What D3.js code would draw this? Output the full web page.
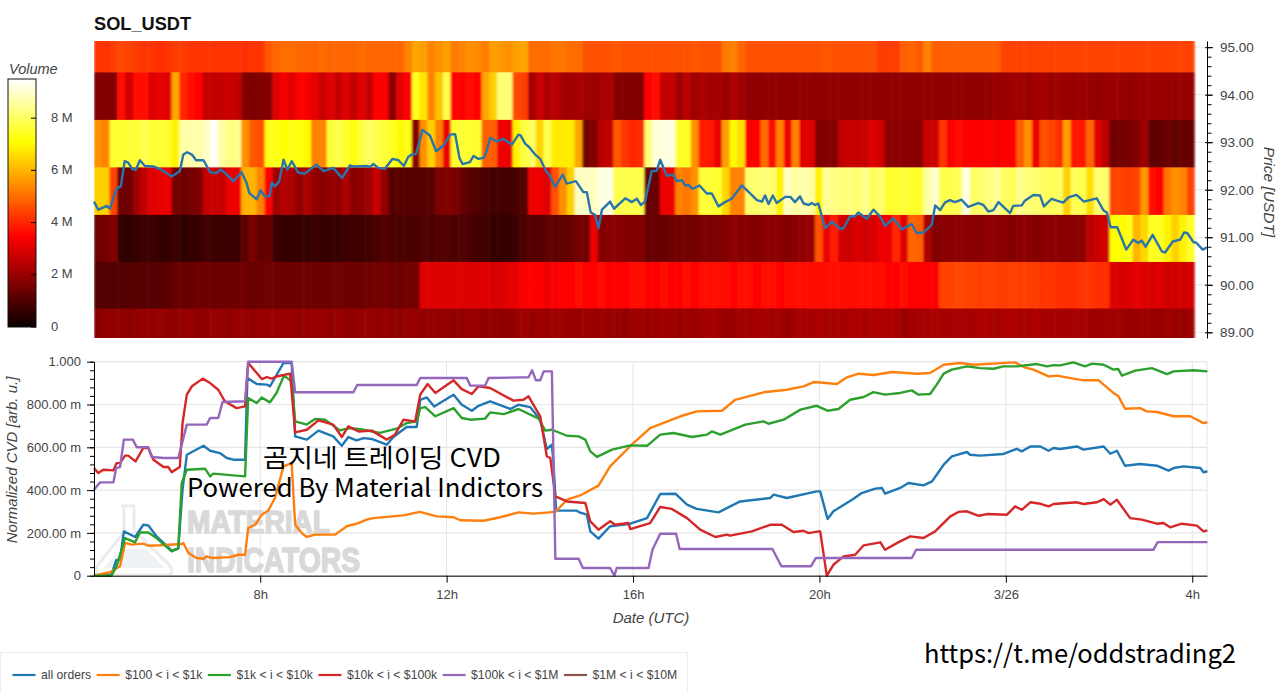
<!DOCTYPE html>
<html>
<head>
<meta charset="utf-8">
<script src="https://cdn.jsdelivr.net/npm/d3@7"></script>
<style>
    html, body { margin: 0; padding: 0; background: #fff; overflow: hidden; }
    svg { display: block; }
    text { font-family: "Liberation Sans", Arial, sans-serif; }
</style>
</head>
<body>
<svg id="chart" width="1280" height="693"></svg>
<script>
// Volume per 10 minute column, one array per price level (millions)
const volume95 = [
    4.2,4.2,4.3,4.5,4.4,4.3,4.2,4.2,4.1,4.2,
    4.3,4.3,4.2,4.2,4.2,4.2,4.2,4.2,4.2,4.1,
    4.2,4.2,4.7,4.9,5.0,5.0,4.9,4.9,4.9,5.0,
    4.9,4.9,4.9,4.9,5.0,4.9,4.9,4.9,4.9,4.9,
    5.3,5.8,5.7,5.3,5.5,5.7,5.2,5.3,5.5,5.4,
    5.2,5.7,5.6,5.5,5.7,5.8,5.0,5.0,5.0,5.1,
    5.1,5.0,5.0,4.6,4.6,4.6,4.6,4.7,4.6,4.6,
    4.6,4.6,4.6,4.6,4.6,4.6,4.6,4.7,4.6,4.6,
    4.6,5.2,5.3,4.9,4.6,4.6,4.6,4.6,4.6,4.6,
    4.6,4.6,4.6,4.6,4.7,4.6,4.6,4.6,4.6,4.6,
    4.6,4.3,4.3,4.3,4.8,4.9,4.7,5.3,4.8,4.8,
    4.8,4.8,4.8,4.8,4.8,4.8,4.8,4.4,4.4,4.4,
    4.4,4.4,4.4,4.4,4.4,4.4,4.4,4.4,4.4,4.4,
    4.4,4.4,4.4,4.4,4.4,4.4,4.4,4.4,4.4,4.4,
    4.4,4.4];
const volume94 = [
    1.7,1.7,1.7,3.6,2.8,3.7,3.7,3.0,3.1,3.0,
    5.8,4.0,3.6,3.5,2.6,2.6,2.6,2.7,2.6,1.7,
    1.6,1.7,1.7,3.0,3.3,3.0,3.5,3.3,3.1,2.7,
    3.0,2.6,3.0,2.6,3.0,2.6,3.5,3.4,1.8,3.1,
    3.4,7.4,6.7,5.3,6.2,7.8,3.5,3.5,3.6,3.5,
    5.8,6.4,8.2,8.2,4.5,4.3,2.2,2.7,2.3,2.5,
    2.2,2.1,2.2,2.1,2.1,2.2,2.3,1.7,1.7,1.7,
    1.7,3.5,3.7,2.6,2.6,2.1,2.5,2.1,2.3,2.1,
    2.2,2.0,2.3,2.1,1.9,1.9,1.9,1.9,1.9,1.9,
    1.9,1.9,1.9,1.9,1.9,1.9,1.9,1.9,1.9,1.9,
    1.9,1.9,1.9,1.9,1.9,1.9,1.9,1.9,1.9,1.9,
    1.9,1.9,1.9,1.9,1.9,1.9,2.0,2.0,2.1,2.1,
    2.0,2.1,2.2,2.0,2.1,2.0,2.0,2.0,2.0,1.9,
    2.0,2.0,2.0,1.9,2.0,2.0,2.0,2.0,2.0,2.0,
    2.0,2.0];
const volume93 = [
    5.5,5.3,7.5,7.5,7.6,7.6,7.8,7.6,7.6,7.5,
    6.9,8.6,8.7,8.7,8.9,9.4,8.6,8.3,8.4,5.5,
    4.7,4.6,7.3,7.3,7.1,7.3,7.2,7.0,5.3,5.3,
    7.6,7.8,7.5,7.2,7.7,8.0,7.8,7.6,7.4,7.0,
    7.3,1.8,5.5,6.4,5.3,3.2,7.5,7.6,7.5,7.5,
    4.8,4.8,3.2,3.2,6.9,7.7,8.0,6.5,7.8,6.8,
    6.8,6.8,5.8,1.5,1.7,2.5,2.6,4.7,4.2,4.0,
    4.1,8.2,9.1,9.2,9.2,7.5,7.4,5.5,3.9,3.8,
    3.2,5.7,7.0,6.6,3.5,3.5,5.0,3.6,5.3,3.2,
    5.3,3.0,3.0,1.7,1.7,1.7,2.6,2.7,2.6,2.7,
    3.0,2.8,1.8,1.8,1.8,1.8,1.8,2.7,2.7,4.2,
    3.4,3.6,3.4,3.5,3.4,3.5,3.3,3.5,3.5,4.8,
    5.5,3.2,4.6,4.4,4.1,5.7,3.8,3.8,4.9,3.0,
    2.5,1.4,1.5,1.5,1.7,2.1,1.2,1.2,1.4,1.2,
    1.3,1.3];
const volume92 = [
    6.4,6.4,4.4,1.4,1.4,2.1,2.6,3.0,3.1,3.2,
    1.5,1.4,1.5,1.6,2.6,2.7,2.6,3.2,3.2,6.0,
    6.0,5.3,3.5,2.1,2.4,2.3,1.9,2.3,1.9,1.8,
    2.0,1.9,2.3,1.8,1.9,2.1,2.7,1.9,1.0,1.1,
    1.1,1.0,1.1,1.1,1.6,1.7,1.6,1.3,1.1,1.0,
    0.9,0.8,0.8,0.8,0.9,1.0,3.2,3.2,3.0,4.6,
    5.5,6.4,8.9,8.9,8.9,9.2,9.2,7.8,7.8,7.8,
    7.8,1.3,1.3,3.2,3.2,5.3,5.1,5.5,7.6,7.6,
    7.5,6.5,5.3,5.3,8.1,8.1,8.2,8.1,6.9,8.9,
    8.6,8.7,8.6,6.9,8.5,8.3,8.2,8.3,8.1,8.4,
    7.9,8.1,7.5,7.5,7.6,7.5,7.5,8.6,9.0,7.8,
    7.8,7.9,9.2,8.0,8.1,8.3,8.5,8.0,7.9,8.4,
    8.2,8.1,8.0,7.9,8.0,6.4,7.9,7.8,6.6,8.1,
    8.1,4.4,4.4,4.3,4.4,5.6,3.6,3.5,5.1,5.5,
    5.3,4.4];
const volume91 = [
    1.4,1.5,1.7,0.6,0.5,0.6,0.7,0.7,0.6,0.6,
    0.7,0.5,0.6,0.6,0.8,0.7,0.7,0.7,0.7,1.2,
    1.6,1.2,1.3,0.7,0.6,0.6,0.6,0.6,0.7,0.6,
    0.6,0.6,0.7,0.7,0.7,0.8,0.9,1.0,0.9,0.9,
    0.9,0.9,1.0,0.9,1.0,1.0,0.9,1.0,0.9,0.8,
    0.8,0.6,0.6,0.6,0.7,0.9,1.1,1.0,1.2,1.2,
    1.2,1.3,1.5,1.4,3.2,1.7,1.8,1.8,1.7,1.7,
    1.7,1.3,1.3,1.3,1.4,1.5,1.5,1.5,1.6,1.6,
    1.6,1.7,1.9,1.7,1.8,1.7,1.8,1.8,1.8,1.7,
    1.8,1.9,2.0,4.6,3.2,3.9,2.8,2.7,2.9,2.8,
    2.9,3.2,3.2,4.0,3.0,4.9,4.8,2.3,1.7,1.8,
    1.8,1.9,1.8,1.8,1.8,1.9,1.8,1.8,1.7,1.8,
    1.8,1.7,1.8,1.8,1.8,1.8,1.8,1.8,2.5,2.7,
    2.8,7.1,7.1,7.3,6.0,6.5,7.4,7.4,6.9,6.4,
    6.9,7.5];
const volume90 = [
    1.0,1.0,1.0,1.0,1.1,1.0,1.1,1.0,1.1,1.1,
    1.3,1.3,1.3,1.4,1.4,1.3,1.4,1.4,1.4,1.4,
    1.3,1.4,1.4,1.4,1.4,1.4,1.4,1.4,1.4,1.4,
    1.4,1.4,1.4,1.4,1.4,1.4,1.5,1.5,1.4,1.4,
    1.5,1.5,3.0,3.0,3.0,3.0,3.0,3.0,3.0,3.0,
    3.0,2.9,2.9,3.1,3.1,3.4,3.5,3.5,3.2,3.4,
    3.5,3.5,3.6,3.5,3.5,3.6,3.5,3.5,3.5,3.6,
    3.6,3.5,3.5,3.6,3.5,3.5,3.6,3.5,3.6,3.6,
    3.6,3.6,3.5,3.6,3.6,3.5,3.6,3.6,3.5,3.6,
    3.6,3.6,3.7,3.7,3.7,3.7,3.7,3.6,3.6,3.6,
    3.6,3.6,3.5,3.5,3.6,3.5,3.5,3.4,3.4,4.4,
    4.4,4.5,4.4,4.4,4.3,4.4,4.3,4.3,4.4,4.3,
    4.3,4.3,4.2,4.2,4.1,4.1,4.1,4.2,4.2,4.1,
    4.1,3.0,2.9,2.9,3.1,3.0,2.9,3.0,2.8,2.8,
    2.8,2.8];
const volume89 = [
    1.8,1.9,1.9,1.9,1.8,1.9,2.0,1.9,2.0,1.9,
    1.9,2.0,2.0,1.9,1.9,2.0,2.0,1.9,2.0,2.0,
    1.9,2.0,2.0,2.0,2.0,2.0,1.9,2.0,2.0,2.0,
    1.9,2.0,1.9,1.9,2.0,2.0,1.9,2.0,1.9,1.9,
    2.0,2.0,1.9,2.0,1.9,2.0,1.9,1.9,2.0,2.0,
    1.9,1.9,1.9,1.9,2.0,2.1,2.0,2.1,2.0,2.1,
    2.1,2.0,2.0,2.1,2.0,2.1,2.0,2.0,1.9,2.1,
    2.1,2.0,2.0,2.1,2.1,2.0,2.1,2.0,2.1,2.2,
    2.1,2.0,2.0,2.1,2.1,2.2,2.2,2.1,2.1,2.0,
    2.2,2.2,2.2,2.3,2.2,2.2,2.2,2.3,2.3,2.2,
    2.3,2.3,2.3,2.2,2.0,2.1,2.2,2.2,2.3,2.2,
    2.2,2.2,2.2,2.2,2.3,2.2,2.2,2.3,2.3,2.2,
    2.2,2.3,2.2,2.2,2.2,2.2,2.2,2.2,2.1,2.1,
    2.1,2.1,2.1,2.0,2.0,2.1,2.0,2.0,2.1,2.0,
    2.0,2.1];
const volumeRows = [volume95, volume94, volume93, volume92, volume91, volume90, volume89];
// Price edges of the seven rows, top to bottom
const priceEdges = [95.13, 94.47, 93.47, 92.47, 91.47, 90.48, 89.5, 88.88];
const priceTicks = [89, 90, 91, 92, 93, 94, 95];
const volumeTicks = [0, 2, 4, 6, 8];
const volumeTickLabels = ["0", "2 M", "4 M", "6 M", "8 M"];

// Lines are [5 minute bar since 4:26 UTC, value]
const priceLine = [[0,91.75],[1.1,91.58],[3.3,91.66],[4.1,91.6],[5.8,92.03],[6.9,92.07],[7.9,92.6],[8.8,92.57],[9.9,92.43],[10.8,92.42],[11.8,92.62],[13.1,92.5],[15.3,92.49],[17.4,92.42],[20,92.28],[22.1,92.39],[23,92.74],[24,92.79],[25.2,92.74],[26.3,92.62],[28.2,92.62],[29.9,92.37],[31.6,92.35],[32.6,92.43],[34.2,92.32],[35.9,92.18],[38,92.37],[39.3,92.14],[40,91.93],[41.9,91.8],[42.9,91.99],[44,91.86],[45.2,91.86],[45.8,92.15],[46.6,92.07],[47.7,92.18],[48.8,92.63],[49.8,92.42],[50.9,92.6],[52.6,92.36],[54.3,92.34],[57.3,92.53],[59.1,92.39],[61.6,92.46],[63.9,92.25],[65.9,92.51],[66.8,92.49],[70.2,92.5],[71.1,92.48],[71.9,92.54],[73.2,92.46],[74.9,92.44],[76.9,92.65],[78.4,92.62],[79.8,92.5],[80.9,92.69],[81.8,92.74],[82.9,92.75],[84.6,93.26],[86.5,93.14],[88.1,92.81],[90,92.93],[91.7,93.16],[93,93.17],[94.1,92.67],[94.9,92.54],[96.8,92.58],[97.7,92.71],[99,92.65],[100.3,92.67],[101.1,92.81],[102,93.09],[103.7,93.02],[105.4,93.07],[107.6,92.95],[109.3,93.16],[109.9,93.14],[111,92.97],[111.9,92.91],[113.6,92.74],[114.9,92.65],[116.2,92.42],[117.5,92.28],[118.7,92.06],[120.7,92.32],[121.7,92.13],[124.1,92.18],[126,91.95],[126.9,91.95],[127.9,91.52],[129,91.47],[129.9,91.19],[130.8,91.58],[132.9,91.75],[133.9,91.6],[136.8,91.82],[138.5,91.74],[139.8,91.81],[140.8,91.68],[141.9,91.75],[143.6,92.39],[144.9,92.4],[145.8,92.63],[147.5,92.29],[149,92.32],[150.1,92.18],[151.4,92.2],[152.2,92.09],[153.1,92.1],[154.1,92.02],[155.9,92.09],[157.8,91.92],[159.1,91.92],[160.8,91.65],[162.5,91.74],[164.2,91.81],[166.8,92.09],[168.5,91.96],[170.7,91.78],[172,91.75],[172.8,91.88],[173.7,91.7],[174.8,91.88],[175.8,91.72],[178,91.85],[179.3,91.85],[180.5,91.74],[181.8,91.86],[182.7,91.71],[184,91.68],[184.8,91.72],[185.7,91.68],[186.5,91.71],[188.3,91.19],[190,91.33],[192.1,91.18],[193,91.19],[194.7,91.44],[196,91.44],[196.8,91.52],[199,91.39],[200.7,91.58],[202.4,91.44],[203.7,91.24],[205.8,91.4],[208,91.17],[210.6,91.28],[211.8,91.09],[213.6,91.1],[215.7,91.26],[216.6,91.67],[217.9,91.57],[219.1,91.73],[220.4,91.78],[221.7,91.74],[223.4,91.79],[225.1,91.64],[227.7,91.72],[229,91.68],[230.3,91.54],[231.6,91.57],[232.9,91.74],[235.9,91.51],[236.7,91.66],[238.9,91.67],[239.7,91.77],[241.9,91.89],[243.6,91.88],[244.6,91.65],[246.6,91.81],[247.9,91.77],[249.6,91.73],[250.9,91.84],[253,91.89],[254.9,91.75],[258.2,91.82],[259.9,91.57],[260.8,91.52],[261.8,91.21],[263.5,91.21],[265.8,90.74],[267.6,90.95],[268.9,90.88],[269.8,90.93],[270.8,90.8],[272.6,91.05],[275,90.7],[275.8,90.68],[277.8,90.91],[279.7,90.95],[280.7,91.1],[281.5,91.09],[283.1,90.9],[283.9,90.88],[285.5,90.74],[286.7,90.79]];

const cvdAll = [[0,0],[4.5,0.005],[5.7,0.072],[6.7,0.075],[7.7,0.207],[10.6,0.181],[12.7,0.238],[14,0.235],[16.1,0.184],[20,0.117],[21.7,0.126],[22.8,0.402],[23.9,0.565],[28.2,0.607],[29.9,0.584],[32.4,0.573],[34.2,0.55],[35.9,0.542],[38.9,0.542],[39.5,0.924],[41.9,0.896],[44.5,0.893],[45.3,0.885],[48.8,0.994],[50.9,0.994],[51.8,0.651],[54.8,0.636],[57.8,0.678],[61.6,0.651],[63.8,0.607],[65.5,0.648],[67.6,0.632],[69.4,0.643],[71.5,0.639],[75.4,0.612],[77.1,0.648],[80.5,0.695],[83.1,0.695],[84,0.822],[85.7,0.833],[87.6,0.791],[92.6,0.846],[94.7,0.799],[97.3,0.771],[99,0.794],[102,0.815],[107.2,0.779],[109.3,0.799],[112.3,0.788],[114.9,0.729],[116.6,0.592],[117.9,0.612],[118.3,0.534],[119,0.304],[124.3,0.304],[125,0.296],[126.9,0.285],[127.8,0.207],[129.9,0.173],[132.9,0.231],[138.1,0.243],[142.4,0.269],[145.8,0.382],[149.7,0.383],[152.7,0.332],[155.2,0.312],[160.8,0.296],[166.4,0.347],[174.1,0.363],[175,0.379],[178.4,0.363],[186.1,0.394],[187,0.394],[188.9,0.265],[190.4,0.301],[195.2,0.355],[197.7,0.386],[201.2,0.407],[202.9,0.41],[203.7,0.383],[207.6,0.41],[209.7,0.433],[213.6,0.422],[215.8,0.441],[217,0.472],[218.8,0.519],[220.9,0.558],[224.8,0.578],[225.6,0.565],[228.2,0.561],[234.2,0.569],[237.6,0.593],[238.9,0.581],[241.1,0.604],[243.7,0.604],[245.8,0.584],[247.1,0.597],[248.8,0.592],[253.1,0.604],[254.8,0.589],[260,0.604],[261.7,0.57],[263.4,0.584],[265.5,0.514],[269.4,0.522],[273.7,0.514],[276.7,0.491],[278,0.503],[280.6,0.511],[284.9,0.503],[285.7,0.483],[286.7,0.488]];

const cvd100 = [[0,0],[4.1,0.016],[6.7,0.044],[8,0.153],[9.7,0.145],[12.7,0.15],[14,0.14],[17,0.142],[22.6,0.148],[23,0.153],[24.3,0.106],[26.4,0.083],[28.2,0.079],[29,0.09],[30.3,0.083],[35,0.087],[37.2,0.098],[38.9,0.098],[39.7,0.223],[41.5,0.238],[43.2,0.285],[44.9,0.305],[46.6,0.363],[48.8,0.511],[50.9,0.526],[51.8,0.238],[53.5,0.199],[54.8,0.181],[56.9,0.192],[62.1,0.192],[65.1,0.231],[68.1,0.246],[70.2,0.262],[71.9,0.269],[79.7,0.282],[83.9,0.298],[88.3,0.277],[92.6,0.273],[94.3,0.259],[100.3,0.257],[104.6,0.273],[109.3,0.296],[113.2,0.29],[118.8,0.298],[121.8,0.355],[125.2,0.375],[129.9,0.421],[132.9,0.511],[138.9,0.62],[143.2,0.69],[151,0.745],[155.2,0.768],[161.7,0.771],[165.1,0.822],[172.4,0.857],[178.4,0.869],[182.7,0.885],[185.3,0.905],[187,0.903],[191.3,0.896],[193.9,0.927],[196.9,0.944],[200.7,0.938],[205.5,0.952],[211.9,0.944],[215.3,0.947],[218.8,0.986],[223,0.994],[226.5,0.986],[237.2,0.997],[239.4,0.975],[241.9,0.963],[245.8,0.931],[247.9,0.935],[254.8,0.913],[258.7,0.913],[262.5,0.854],[263.8,0.838],[265.5,0.78],[269.4,0.783],[271.1,0.768],[273.7,0.765],[278,0.745],[282.3,0.745],[285.7,0.713],[286.7,0.717]];

const cvd1k = [[0,0],[4.5,0],[5.8,0.044],[8,0.176],[10.6,0.156],[11.8,0.202],[14,0.202],[16.1,0.176],[20,0.114],[21.7,0.129],[22.6,0.433],[23.9,0.495],[28.6,0.5],[29.9,0.464],[30.7,0.477],[35.9,0.469],[38.9,0.464],[39.7,0.83],[41.9,0.807],[43.2,0.833],[45.3,0.81],[47,0.854],[48.9,0.935],[50.9,0.908],[51.8,0.721],[54.8,0.706],[56.9,0.732],[59.5,0.729],[63.3,0.679],[65.9,0.69],[69.4,0.682],[73.6,0.667],[77.9,0.687],[80.5,0.713],[83.1,0.721],[84,0.783],[85.3,0.788],[87.9,0.745],[92.6,0.783],[94.7,0.737],[96.9,0.729],[100.7,0.734],[102,0.763],[105.5,0.755],[109.3,0.779],[114.5,0.734],[116.2,0.678],[117.9,0.682],[121.8,0.654],[124.8,0.651],[126.5,0.636],[127.8,0.581],[129.5,0.555],[133.4,0.589],[138.1,0.609],[142.4,0.607],[145.8,0.659],[149.2,0.667],[154,0.648],[157.8,0.659],[159.1,0.674],[161.3,0.659],[167.7,0.706],[172.4,0.721],[173.7,0.71],[177.6,0.729],[181.9,0.776],[186.1,0.794],[188.9,0.771],[191.7,0.779],[194.7,0.822],[198.2,0.835],[200.7,0.858],[203.7,0.846],[207.6,0.854],[210.6,0.866],[212.3,0.846],[215.3,0.849],[217,0.893],[218.8,0.944],[220.9,0.963],[224.8,0.978],[228.2,0.97],[231.6,0.967],[234.2,0.978],[237.6,0.978],[242.8,0.989],[245.4,0.978],[247.1,0.984],[248.8,0.983],[252.2,0.997],[255.2,0.978],[257,0.991],[260,0.986],[262.5,0.963],[263.7,0.966],[264.7,0.935],[268.1,0.958],[272.4,0.97],[276.3,0.942],[278,0.955],[283.1,0.96],[286.7,0.955]];

const cvd10k = [[0,0.503],[1.1,0.48],[2.4,0.495],[5,0.492],[5.8,0.526],[6.7,0.526],[8,0.561],[8.8,0.561],[10.7,0.534],[12.7,0.597],[14,0.597],[15.3,0.542],[17.9,0.508],[19.1,0.508],[20,0.484],[22.1,0.508],[22.8,0.713],[23.9,0.846],[25.2,0.885],[28,0.921],[29.9,0.9],[32,0.869],[33.7,0.815],[36.7,0.783],[38.9,0.791],[39.7,0.994],[41.9,0.947],[43.2,0.919],[44.5,0.928],[45.8,0.921],[47,0.931],[50.5,0.944],[51.8,0.67],[54.8,0.682],[57.8,0.726],[61.6,0.706],[63.8,0.648],[65.5,0.698],[68.1,0.674],[71.5,0.678],[75.4,0.636],[77.5,0.659],[79.7,0.729],[82.7,0.721],[84,0.846],[85.9,0.896],[87.9,0.854],[92.6,0.913],[94.7,0.872],[97.3,0.849],[99,0.885],[102,0.877],[108,0.818],[110.6,0.822],[111.9,0.838],[114.9,0.745],[116.6,0.558],[117.5,0.55],[118.8,0.371],[121.8,0.347],[126.5,0.34],[127.8,0.254],[129.9,0.215],[132.9,0.254],[134.2,0.238],[137.6,0.246],[138.1,0.218],[143.2,0.246],[145.8,0.321],[148.8,0.312],[152.7,0.269],[156.1,0.215],[160,0.181],[163,0.192],[163.8,0.187],[169.4,0.207],[174.1,0.238],[177.1,0.238],[180.1,0.204],[182.7,0.21],[184,0.199],[186.6,0.207],[187,0.207],[188.7,0],[190.4,0.051],[193,0.09],[196,0.098],[198.2,0.142],[202.5,0.156],[203.7,0.121],[207.2,0.157],[210.2,0.184],[213.6,0.176],[216.6,0.207],[220.5,0.277],[222.6,0.298],[224.8,0.301],[227.8,0.28],[229.9,0.288],[235.1,0.285],[237.2,0.324],[238.9,0.308],[241.1,0.343],[243.7,0.336],[245.8,0.324],[247.1,0.335],[253.1,0.343],[254.8,0.335],[258.2,0.343],[260,0.358],[261.7,0.332],[263.4,0.355],[266.8,0.269],[269.8,0.262],[273.7,0.243],[275.4,0.246],[277.1,0.226],[280.1,0.243],[284,0.234],[285.7,0.207],[286.7,0.212]];

const cvd100k = [[0,0.402],[1.5,0.436],[5,0.436],[5.7,0.503],[6.7,0.508],[7.7,0.636],[10,0.636],[11,0.6],[14,0.6],[14.8,0.555],[17.9,0.55],[21.7,0.55],[23.9,0.706],[29,0.706],[29.9,0.737],[32,0.737],[33.1,0.812],[38.9,0.815],[39.7,1],[50.9,1],[51.8,0.857],[66.8,0.857],[67.8,0.891],[83.1,0.891],[84,0.924],[96,0.924],[96.9,0.888],[100.7,0.888],[101.6,0.924],[111.9,0.927],[112.8,0.96],[113.8,0.913],[114.9,0.913],[115.8,0.955],[117.9,0.955],[118.8,0.079],[124.8,0.079],[125.9,0.036],[132.9,0.036],[134,0],[134.6,0.036],[142.8,0.036],[143.8,0.121],[145.8,0.196],[149.9,0.196],[150.8,0.125],[174.7,0.125],[177,0.044],[184.6,0.044],[185.9,0.083],[210.6,0.083],[211.7,0.121],[272.8,0.121],[273.9,0.157],[286.7,0.157]];

// Nothing of this series shows in the plot, only its legend entry
const cvd1m = [];

const cvdSeries = [cvdAll, cvd100, cvd1k, cvd10k, cvd100k, cvd1m];
const seriesNames = ["all orders", "$100 < i < $1k", "$1k < i < $10k", "$10k < i < $100k", "$100k < i < $1M", "$1M < i < $10M"];
const seriesColors = ["#1f77b4", "#ff7f0e", "#2ca02c", "#d62728", "#9467bd", "#8c564b"];

const cvdTicks = [0, 0.2, 0.4, 0.6, 0.8, 1];
const cvdTickLabels = ["0", "200.00 m", "400.00 m", "600.00 m", "800.00 m", "1.000"];
const timeTickHours = [8, 12, 16, 20, 24, 28];
const timeTickLabels = ["8h", "12h", "16h", "20h", "3/26", "4h"];

const svg = d3.select("#chart");
const textColor = "#444";
const gridColor = "#e6e6e6";

// Shared time axis
const startTime = Date.UTC(2022, 2, 25, 4, 26);
const barToDate = b => new Date(startTime + b * 5 * 60000);
const x = d3.scaleUtc()
    .domain([barToDate(0), barToDate(286.6)])
    .range([94, 1207]);
const tickDates = timeTickHours.map(h => new Date(Date.UTC(2022, 2, 25, h)));

// Hot colormap
const volumeMax = 9.47;
const hot = d3.scaleLinear()
    .domain([0, 0.365 * volumeMax, 0.746 * volumeMax, volumeMax])
    .range(["#0b0000", "#ff0000", "#ffff00", "#ffffff"])
    .clamp(true);

// Reference heatmap is an upscaled image, so soften it a little along time
const defs = svg.append("defs");
const soft = defs.append("filter")
    .attr("id", "soft")
    .attr("filterUnits", "userSpaceOnUse")
    .attr("x", 94).attr("y", 41).attr("width", 1102).attr("height", 297);
soft.append("feGaussianBlur")
    .attr("stdDeviation", "0.9 0.35")
    .attr("edgeMode", "duplicate");

// ---- Top panel ----
const yPrice = d3.scaleLinear().domain([88.88, 95.13]).range([338, 41]);

svg.append("g").selectAll("line")
    .data(priceTicks)
    .join("line")
    .attr("x1", 94).attr("x2", 1207)
    .attr("y1", d => yPrice(d)).attr("y2", d => yPrice(d))
    .attr("stroke", gridColor);

// one column is two bars, slightly under so the last one stops where the picture does
const barsPerColumn = 1.996;
const heat = svg.append("g").attr("filter", "url(#soft)");
volumeRows.forEach((row, r) => {
    heat.append("g")
        .selectAll("rect")
        .data(row)
        .join("rect")
        .attr("x", (d, i) => x(barToDate(i * barsPerColumn)))
        .attr("width", (d, i) => x(barToDate((i + 1) * barsPerColumn)) - x(barToDate(i * barsPerColumn)) + (i < row.length - 1 ? 0.5 : 0))
        .attr("y", yPrice(priceEdges[r]))
        .attr("height", yPrice(priceEdges[r + 1]) - yPrice(priceEdges[r]) + (r < 6 ? 0.5 : 0))
        .attr("fill", d => hot(d));
});

const lineFor = yScale => d3.line()
    .x(d => x(barToDate(d[0])))
    .y(d => yScale(d[1]));

svg.append("path")
    .attr("d", lineFor(yPrice)(priceLine))
    .attr("fill", "none")
    .attr("stroke", "#2a74ac")
    .attr("stroke-width", 2.4)
    .attr("stroke-linejoin", "round");

const priceAxis = svg.append("g")
    .attr("transform", "translate(1207,0)")
    .call(d3.axisRight(yPrice).tickValues(priceTicks).tickFormat(d3.format(".2f")).tickSize(6).tickSizeOuter(0));
svg.append("g")
    .attr("transform", "translate(1207,0)")
    .call(d3.axisRight(yPrice)
        .tickValues(d3.range(89, 95.01, 0.2))
        .tickFormat("")
        .tickSize(4.5)
        .tickSizeOuter(0))
    .select(".domain").remove();
priceAxis.selectAll(".tick line").attr("x1", -2);
priceAxis.selectAll(".tick text").attr("x", 13).style("font-size", "13.5px").attr("fill", textColor);

svg.append("text")
    .attr("transform", "translate(1264,192) rotate(90)")
    .attr("text-anchor", "middle")
    .style("font-size", "15.5px")
    .style("font-style", "italic")
    .attr("fill", textColor)
    .text("Price [USDT]");

svg.append("text")
    .attr("x", 94).attr("y", 30)
    .style("font-size", "18.2px")
    .style("font-weight", "bold")
    .attr("fill", "#111")
    .text("SOL_USDT");

// ---- Colorbar ----
const yVolume = d3.scaleLinear().domain([0, volumeMax]).range([326.5, 79.3]);

svg.append("g")
    .attr("shape-rendering", "crispEdges")
    .selectAll("rect")
    .data(d3.range(0, 250))
    .join("rect")
    .attr("x", 8).attr("width", 28)
    .attr("y", d => yVolume(d / 250 * volumeMax) - 1)
    .attr("height", 1.6)
    .attr("fill", d => hot(d / 250 * volumeMax));
svg.append("rect")
    .attr("x", 8).attr("y", 79).attr("width", 28).attr("height", 248)
    .attr("fill", "none").attr("stroke", "#111");

const colorAxis = svg.append("g")
    .attr("transform", "translate(36,0)")
    .call(d3.axisLeft(yVolume).tickValues(volumeTicks).tickFormat("").tickSize(5).tickSizeOuter(0));
colorAxis.select(".domain").remove();
colorAxis.selectAll(".tick text").remove();

svg.append("g").selectAll("text")
    .data(volumeTicks)
    .join("text")
    .attr("x", 51)
    .attr("y", d => yVolume(d) + 4)
    .style("font-size", "13px")
    .attr("fill", textColor)
    .text((d, i) => volumeTickLabels[i]);

svg.append("text")
    .attr("x", 9).attr("y", 74)
    .style("font-size", "14.5px")
    .style("font-style", "italic")
    .attr("fill", textColor)
    .text("Volume");

// ---- Bottom panel ----
const yCvd = d3.scaleLinear().domain([0, 1]).range([575.7, 361.7]);

// grid
svg.append("g").selectAll("line")
    .data(cvdTicks)
    .join("line")
    .attr("x1", 94).attr("x2", 1207)
    .attr("y1", d => yCvd(d)).attr("y2", d => yCvd(d))
    .attr("stroke", gridColor).attr("stroke-width", 1.2);
svg.append("g").selectAll("line")
    .data(tickDates)
    .join("line")
    .attr("x1", d => x(d)).attr("x2", d => x(d))
    .attr("y1", yCvd(0)).attr("y2", yCvd(1))
    .attr("stroke", gridColor);
svg.append("line")
    .attr("x1", 1207).attr("x2", 1207)
    .attr("y1", yCvd(0)).attr("y2", yCvd(1))
    .attr("stroke", gridColor);

// Material Indicators watermark
const mark = svg.append("g");
mark.append("path")
    .attr("d", "M121,506 L135,506 M124,506 L124,532 L97,566 Q93,575 102,575 L166,575 Q175,575 170,566 L134,530 L134,506")
    .attr("fill", "none").attr("stroke", "#ebebeb").attr("stroke-width", 3);
mark.append("path")
    .attr("d", "M103,568 L122,549 L146,549 L164,568 Z")
    .attr("fill", "#eef2f5");
mark.append("text")
    .attr("x", 187).attr("y", 533)
    .attr("textLength", 143).attr("lengthAdjust", "spacingAndGlyphs")
    .style("font-size", "32px").style("font-weight", "bold")
    .attr("fill", "#d9d9d9").attr("stroke", "#d9d9d9").attr("stroke-width", 1.6)
    .text("MATERIAL");
mark.append("text")
    .attr("x", 187).attr("y", 572)
    .attr("textLength", 173).attr("lengthAdjust", "spacingAndGlyphs")
    .style("font-size", "35px").style("font-weight", "bold")
    .attr("fill", "#d9d9d9").attr("stroke", "#d9d9d9").attr("stroke-width", 1.6)
    .text("INDICATORS");

// CVD lines
cvdSeries.forEach((s, i) => {
    if (s.length == 0) return;
    svg.append("path")
        .attr("d", lineFor(yCvd)(s))
        .attr("fill", "none")
        .attr("stroke", seriesColors[i])
        .attr("stroke-width", 2.4)
        .attr("stroke-linejoin", "round");
});

const cvdAxis = svg.append("g")
    .attr("transform", "translate(94,0)")
    .call(d3.axisLeft(yCvd)
        .tickValues(cvdTicks)
        .tickFormat((d, i) => cvdTickLabels[i])
        .tickSize(7)
        .tickSizeOuter(0));
cvdAxis.selectAll(".tick text").attr("x", -13).style("font-size", "13px").attr("fill", textColor);
svg.append("g")
    .attr("transform", "translate(94,0)")
    .call(d3.axisLeft(yCvd).tickValues(d3.range(0, 1.001, 0.04)).tickFormat("").tickSize(4).tickSizeOuter(0))
    .select(".domain").remove();

const timeAxis = svg.append("g")
    .attr("transform", "translate(0," + yCvd(0) + ")")
    .call(d3.axisBottom(x)
        .tickValues(tickDates)
        .tickFormat((d, i) => timeTickLabels[i])
        .tickSize(7)
        .tickSizeOuter(0));
timeAxis.selectAll(".tick text").attr("y", 14).style("font-size", "13px").attr("fill", textColor);

svg.append("text")
    .attr("x", 651).attr("y", 623)
    .attr("text-anchor", "middle")
    .style("font-size", "15px").style("font-style", "italic")
    .attr("fill", textColor)
    .text("Date (UTC)");

svg.append("text")
    .attr("transform", "translate(17,460) rotate(-90)")
    .attr("text-anchor", "middle")
    .style("font-size", "15px").style("font-style", "italic")
    .attr("fill", textColor)
    .text("Normalized CVD [arb. u.]");

// ---- Legend ----
svg.append("rect")
    .attr("x", 0.5).attr("y", 652.5).attr("width", 687).attr("height", 41)
    .attr("fill", "#fff").attr("stroke", "#ececec");

let legendX = 12.5;
seriesNames.forEach((name, i) => {
    svg.append("line")
        .attr("x1", legendX).attr("x2", legendX + 23)
        .attr("y1", 675).attr("y2", 675)
        .attr("stroke", seriesColors[i]).attr("stroke-width", 2.2);
    const label = svg.append("text")
        .attr("x", legendX + 28.5).attr("y", 679)
        .style("font-size", "12.2px")
        .attr("fill", textColor)
        .text(name);
    legendX += 28.5 + label.node().getComputedTextLength() + 5.5;
});

// ---- Pasted captions on top of everything ----
const captionFont = '"Noto Sans CJK KR", "Noto Sans", sans-serif';
function caption(str, left, right, baseline, size) {
    svg.append("text")
        .attr("x", left).attr("y", baseline)
        .attr("textLength", right - left).attr("lengthAdjust", "spacingAndGlyphs")
        .style("font-family", captionFont)
        .style("font-size", size + "px")
        .attr("fill", "#000")
        .text(str);
}
caption("곰지네 트레이딩 CVD", 263, 501, 467, 25);
caption("Powered By Material Indictors", 187, 543, 497, 25);
caption("https://t.me/oddstrading2", 924, 1236, 663, 26);
</script>
</body>
</html>
